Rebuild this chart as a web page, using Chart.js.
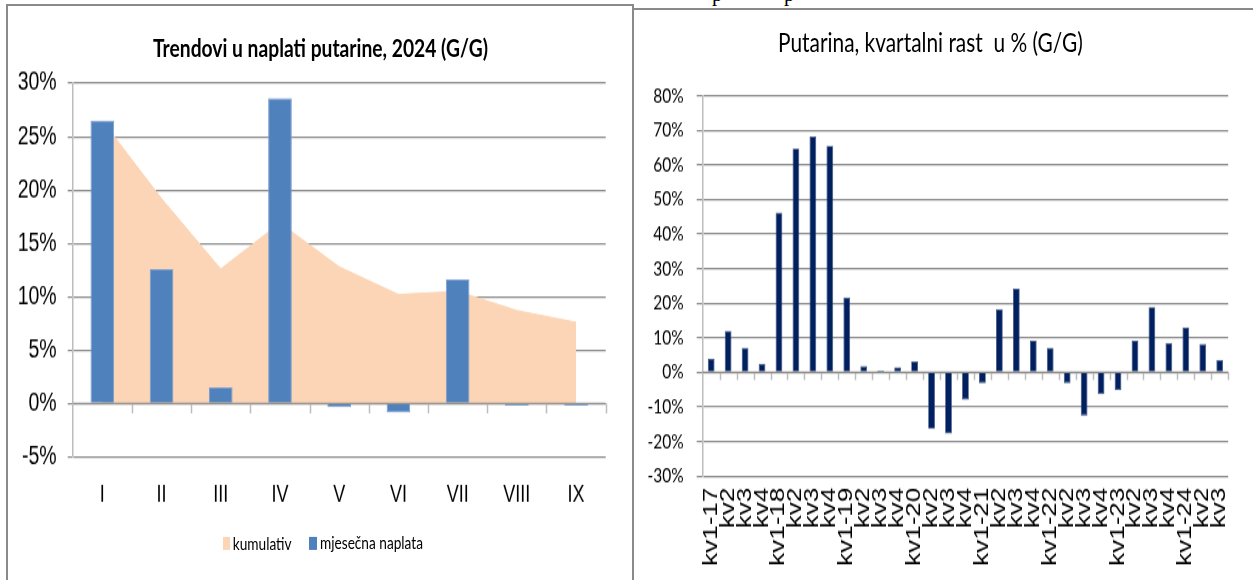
<!DOCTYPE html>
<html>
<head>
<meta charset="utf-8">
<script src="https://cdn.jsdelivr.net/npm/chart.js@4.4.1/dist/chart.umd.min.js"></script>
<style>
  html, body { margin:0; padding:0; background:#fff; }
  body { width:1253px; height:580px; position:relative; overflow:hidden; }
  .line { position:absolute; background:#8a8a8a; }
  #wrap { position:absolute; left:0; top:0; width:1253px; height:446.154px; transform:scaleY(1.3); transform-origin:0 0; }
  #wrap canvas { position:absolute; top:0; }
  .txt { position:absolute; white-space:nowrap; color:#000; }
  .box { position:absolute; }
  .clipTxt { position:absolute; font-family:'Liberation Serif','DejaVu Serif',serif; font-size:21px; line-height:21px; color:#000; }
</style>
</head>
<body>
<div class="clipTxt" style="left:712px; top:-15.6px;">p</div>
<div class="clipTxt" style="left:784px; top:-15.6px;">p</div>

<div id="wrap">
  <canvas id="left" width="632" height="446" style="left:0px;"></canvas>
  <canvas id="right" width="619" height="446" style="left:634px;"></canvas>
  <div id="titleL" class="txt">Trendovi u naplati putarine, 2024 (G/G)</div>
  <div id="titleR" class="txt">Putarina, kvartalni rast&nbsp; u % (G/G)</div>
  <div class="box" style="left:222.7px; top:412.8px; width:7.3px; height:10.2px; background:#FBD5B5;"></div>
  <div id="legK" class="txt">kumulativ</div>
  <div class="box" style="left:309.3px; top:412.8px; width:7.3px; height:10.2px; background:#4F81BD;"></div>
  <div id="legM" class="txt">mjesečna naplata</div>
</div>

<div class="line" style="left:6px; top:4px; width:2px; height:576px;"></div>
<div class="line" style="left:6px; top:4px; width:627px; height:2px;"></div>
<div class="line" style="left:631.5px; top:4px; width:2.5px; height:576px;"></div>
<div class="line" style="left:633px; top:8px; width:620px; height:2px;"></div>

<script>
// ---------- data ----------
const months = ['I','II','III','IV','V','VI','VII','VIII','IX'];
const kumulativ = [26.5, 19.2, 12.6, 16.9, 12.8, 10.2, 10.5, 8.7, 7.6];
const mjesecnaNaplata = [26.5, 12.6, 1.5, 28.6, -0.35, -0.85, 11.6, -0.2, -0.2];

const quarters = ['kv1-17','kv2','kv3','kv4',
                  'kv1-18','kv2','kv3','kv4',
                  'kv1-19','kv2','kv3','kv4',
                  'kv1-20','kv2','kv3','kv4',
                  'kv1-21','kv2','kv3','kv4',
                  'kv1-22','kv2','kv3','kv4',
                  'kv1-23','kv2','kv3','kv4',
                  'kv1-24','kv2','kv3'];
const kvartalniRast = [3.9, 12.0, 7.1, 2.5,
                       46.2, 64.7, 68.2, 65.5,
                       21.7, 1.8, 0.5, 1.5,
                       3.2, -16.3, -17.7, -7.9,
                       -3.1, 18.3, 24.2, 9.2,
                       7.1, -3.1, -12.5, -6.3,
                       -5.1, 9.2, 18.9, 8.5,
                       13.0, 8.2, 3.6];

const leftTicks = { min: -5, max: 30, step: 5 };
const rightTicks = { min: -30, max: 80, step: 10 };

// ---------- style ----------
const S = 1.3;
const PEACH = '#FBD5B5', BLUE = '#4F81BD', NAVY = '#002060';
const GRID = '#8c8c8c', AXIS = '#bdbdbd';
const NARROW = "'Liberation Sans Narrow','Arial Narrow','Liberation Sans',Arial,sans-serif";
const ARIAL = "'Liberation Sans',Arial,sans-serif";
const CAL = "Lato,'Open Sans',sans-serif";

function fit(id, family, weight, targetW, cx, cyReal) {
  const el = document.getElementById(id);
  const c = document.createElement('canvas').getContext('2d');
  c.font = weight + ' 100px ' + family;
  const w = c.measureText(el.textContent).width;
  const size = 100 * targetW / w;
  el.style.fontFamily = family;
  el.style.fontWeight = weight;
  el.style.fontSize = size + 'px';
  el.style.lineHeight = size + 'px';
  el.style.left = (cx - targetW / 2) + 'px';
  el.style.top = (cyReal / S - size / 2) + 'px';
}
fit('titleL', CAL, 'bold', 335, 320.5, 48);
fit('titleR', CAL, 'normal', 305, 930.5, 42);
fit('legK', CAL, 'normal', 59, 232.7 + 29.5, 543);
fit('legM', CAL, 'normal', 103, 320 + 51.5, 543);

const zeroAxis = {
  id: 'zeroAxis',
  afterDatasetsDraw(chart, args, opts) {
    const { ctx, chartArea: a, scales: { x, y } } = chart;
    const y0 = y.getPixelForValue(0);
    ctx.save();
    ctx.strokeStyle = AXIS;
    ctx.lineWidth = 1.5;
    const n = chart.data.labels.length;
    for (let i = 0; i < n; i++) {
      const px = Math.round(x.getPixelForValue(i + 0.5)) + 0.5;
      ctx.beginPath();
      ctx.moveTo(px, y0);
      ctx.lineTo(px, y0 + opts.len);
      ctx.stroke();
    }
    ctx.strokeStyle = GRID;
    ctx.lineWidth = 1.2;
    ctx.beginPath();
    ctx.moveTo(a.left, y0);
    ctx.lineTo(a.right, y0);
    ctx.stroke();
    ctx.restore();
  }
};

new Chart(document.getElementById('left'), {
  type: 'bar',
  data: {
    labels: months,
    datasets: [
      { type: 'line', label: 'kumulativ', data: kumulativ, fill: 'origin',
        backgroundColor: PEACH, borderColor: PEACH, borderWidth: 1,
        pointRadius: 0, tension: 0, order: 2 },
      { type: 'bar', label: 'mjesečna naplata', data: mjesecnaNaplata,
        backgroundColor: BLUE, borderColor: '#7a9fd0', borderWidth: 1,
        barPercentage: 0.4, categoryPercentage: 1, order: 1 }
    ]
  },
  options: {
    responsive: false, animation: false, devicePixelRatio: 1,
    layout: { padding: { left: 0, right: 26.3, top: 64.1, bottom: 0 } },
    plugins: { legend: { display: false }, title: { display: false }, tooltip: { enabled: false },
               zeroAxis: { len: 7.7 } },
    scales: {
      x: {
        offset: true,
        grid: { display: false, drawTicks: false },
        border: { display: false },
        ticks: { color: '#000', font: { family: NARROW, size: 18 }, padding: 19, maxRotation: 0, autoSkip: false },
        afterFit(s) { s.height = 446 - 351.3; }
      },
      y: {
        min: leftTicks.min, max: leftTicks.max,
        ticks: { stepSize: leftTicks.step, callback: v => v + '%', color: '#000',
                 font: { family: NARROW, size: 19.5 }, padding: 11 },
        grid: { color: GRID, lineWidth: 1.2, tickLength: 5, drawTicks: true },
        border: { display: true, color: AXIS, width: 1.5 },
        afterFit(s) { s.width = 72.7; }
      }
    }
  },
  plugins: [zeroAxis]
});

new Chart(document.getElementById('right'), {
  type: 'bar',
  data: {
    labels: quarters,
    datasets: [
      { label: 'Putarina', data: kvartalniRast, backgroundColor: NAVY,
        borderColor: '#3a5080', borderWidth: 0.8,
        barPercentage: 0.4, categoryPercentage: 1 }
    ]
  },
  options: {
    responsive: false, animation: false, devicePixelRatio: 1,
    layout: { padding: { left: 0, right: 16.3, top: 73.6, bottom: 0 } },
    plugins: { legend: { display: false }, title: { display: false }, tooltip: { enabled: false },
               zeroAxis: { len: 6 } },
    scales: {
      x: {
        offset: true,
        grid: { display: false, drawTicks: false },
        border: { display: false },
        ticks: { color: '#000', font: { family: ARIAL, size: 20 }, padding: 9,
                 minRotation: 90, maxRotation: 90, autoSkip: false },
        afterFit(s) { s.height = 446 - 366.2; }
      },
      y: {
        min: rightTicks.min, max: rightTicks.max,
        ticks: { stepSize: rightTicks.step, callback: v => v + '%', color: '#000',
                 font: { family: CAL, size: 15.5 }, padding: 13 },
        grid: { color: GRID, lineWidth: 1.2, tickLength: 6, drawTicks: true },
        border: { display: true, color: AXIS, width: 1.5 },
        afterFit(s) { s.width = 68.7; }
      }
    }
  },
  plugins: [zeroAxis]
});
</script>
</body>
</html>
